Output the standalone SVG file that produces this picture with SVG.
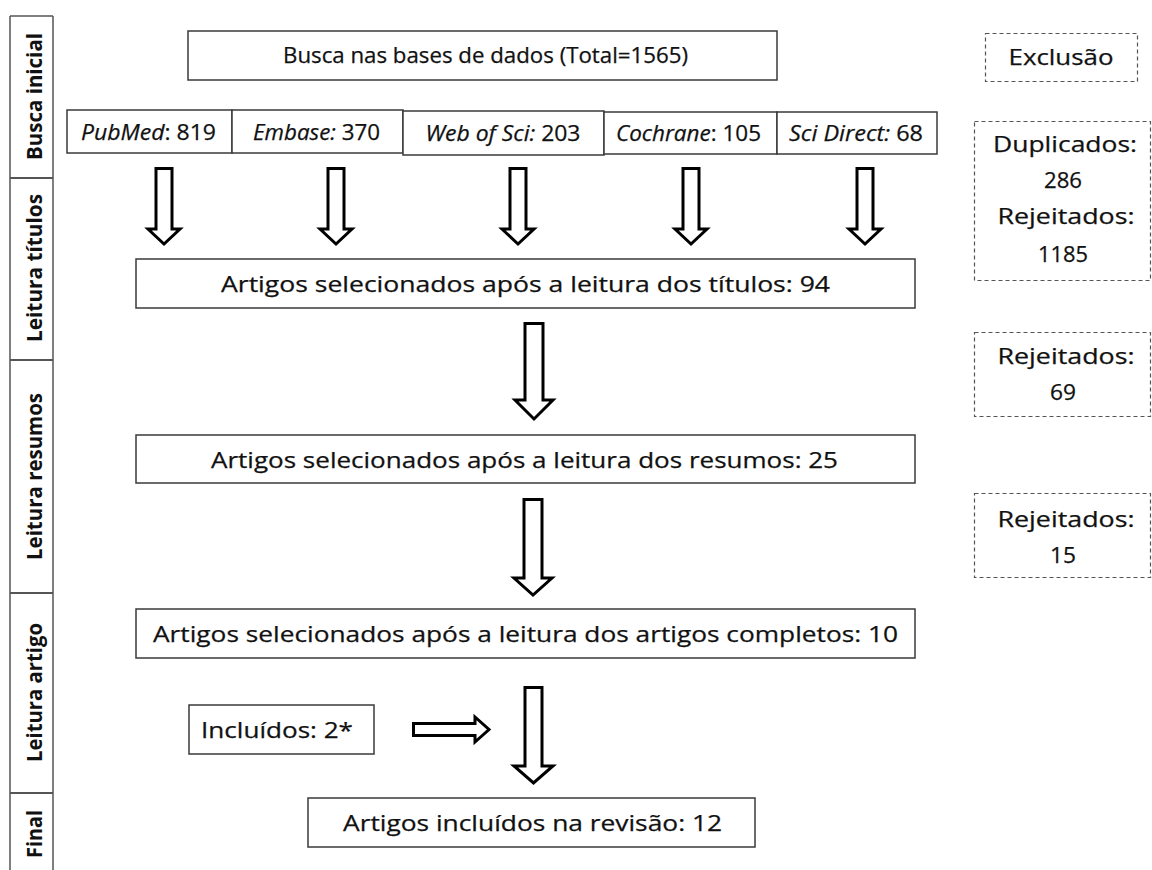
<svg xmlns="http://www.w3.org/2000/svg" width="1152" height="870" viewBox="0 0 1152 870">
<style>
.box{fill:#fff;stroke:#3a3a3a;stroke-width:1.5}
.dash{fill:#fff;stroke:#555;stroke-width:1.2;stroke-dasharray:4 3}
.side{fill:none;stroke:#555;stroke-width:1.5}
.t{font-family:"Open Sans",Lato,"Liberation Sans",sans-serif;font-size:22px;fill:#111;stroke:#111;stroke-width:0.25;text-anchor:middle}
.s{font-family:"Open Sans",Lato,"Liberation Sans",sans-serif;font-size:22px;font-weight:bold;fill:#111;text-anchor:middle}
.arr{fill:#fff;stroke:#000;stroke-width:3;stroke-linejoin:miter}
.i{font-style:italic}
</style>
<rect width="1152" height="870" fill="#fff"/>
<g id="sidebar">
<path class="side" d="M10 16H53M10 16V870M53 16V870"/>
<path class="side" d="M10 178H53M10 360H53M10 593H53M10 793H53" style="stroke-width:2"/>
<text class="s" transform="translate(42,96.5) rotate(-90)" textLength="127" lengthAdjust="spacingAndGlyphs">Busca inicial</text>
<text class="s" transform="translate(42,268) rotate(-90)" textLength="148" lengthAdjust="spacingAndGlyphs">Leitura títulos</text>
<text class="s" transform="translate(42,476.5) rotate(-90)" textLength="167" lengthAdjust="spacingAndGlyphs">Leitura resumos</text>
<text class="s" transform="translate(42,692.5) rotate(-90)" textLength="139" lengthAdjust="spacingAndGlyphs">Leitura artigo</text>
<text class="s" transform="translate(42,834) rotate(-90)" textLength="48" lengthAdjust="spacingAndGlyphs">Final</text>
</g>
<g id="busca">
<rect class="box" x="188" y="31" width="589" height="49"/>
<text class="t" x="485.5" y="63" textLength="405" lengthAdjust="spacingAndGlyphs">Busca nas bases de dados (Total=1565)</text>
</g>
<g id="pubmed">
<rect class="box" x="67" y="110" width="165" height="43"/>
<text class="t" x="148.5" y="140" textLength="135" lengthAdjust="spacingAndGlyphs"><tspan class="i">PubMed</tspan>: 819</text>
</g>
<g id="embase">
<rect class="box" x="232" y="110" width="171" height="43"/>
<text class="t" x="316.5" y="140" textLength="127" lengthAdjust="spacingAndGlyphs"><tspan class="i">Embase:</tspan> 370</text>
</g>
<g id="webofsci">
<rect class="box" x="403" y="111" width="201" height="44"/>
<text class="t" x="503" y="141" textLength="155" lengthAdjust="spacingAndGlyphs"><tspan class="i">Web of Sci:</tspan> 203</text>
</g>
<g id="cochrane">
<rect class="box" x="604" y="112" width="173" height="42"/>
<text class="t" x="688.5" y="141" textLength="145" lengthAdjust="spacingAndGlyphs"><tspan class="i">Cochrane</tspan>: 105</text>
</g>
<g id="scidirect">
<rect class="box" x="777" y="112" width="160" height="42"/>
<text class="t" x="856" y="141" textLength="134" lengthAdjust="spacingAndGlyphs"><tspan class="i">Sci Direct:</tspan> 68</text>
</g>
<g id="titulos">
<rect class="box" x="136" y="259" width="779" height="49"/>
<text class="t" x="525.5" y="292" textLength="609" lengthAdjust="spacingAndGlyphs">Artigos selecionados após a leitura dos títulos: 94</text>
</g>
<g id="resumos">
<rect class="box" x="136" y="435" width="779" height="48"/>
<text class="t" x="524.5" y="468" textLength="627" lengthAdjust="spacingAndGlyphs">Artigos selecionados após a leitura dos resumos: 25</text>
</g>
<g id="completos">
<rect class="box" x="136" y="609" width="779" height="49"/>
<text class="t" x="525.5" y="642" textLength="745" lengthAdjust="spacingAndGlyphs">Artigos selecionados após a leitura dos artigos completos: 10</text>
</g>
<g id="incluidos">
<rect class="box" x="189" y="705" width="185" height="49"/>
<text class="t" x="277" y="738" textLength="152" lengthAdjust="spacingAndGlyphs">Incluídos: 2*</text>
</g>
<g id="final">
<rect class="box" x="308" y="798" width="447" height="49"/>
<text class="t" x="532.5" y="831" textLength="379" lengthAdjust="spacingAndGlyphs">Artigos incluídos na revisão: 12</text>
</g>
<g id="exclusao">
<rect class="dash" x="985.5" y="33.5" width="152" height="48"/>
<text class="t" x="1061" y="65" textLength="105" lengthAdjust="spacingAndGlyphs">Exclusão</text>
</g>
<g id="excl1">
<rect class="dash" x="974.5" y="121.5" width="176" height="159"/>
<text class="t" x="1065" y="152" textLength="144" lengthAdjust="spacingAndGlyphs">Duplicados:</text>
<text class="t" x="1063" y="188" textLength="38" lengthAdjust="spacingAndGlyphs">286</text>
<text class="t" x="1066" y="224" textLength="137" lengthAdjust="spacingAndGlyphs">Rejeitados:</text>
<text class="t" x="1063" y="262" textLength="50" lengthAdjust="spacingAndGlyphs">1185</text>
</g>
<g id="excl2">
<rect class="dash" x="974.5" y="332.5" width="176" height="84"/>
<text class="t" x="1066" y="364" textLength="137" lengthAdjust="spacingAndGlyphs">Rejeitados:</text>
<text class="t" x="1063" y="400" textLength="26" lengthAdjust="spacingAndGlyphs">69</text>
</g>
<g id="excl3">
<rect class="dash" x="974.5" y="493.5" width="176" height="84"/>
<text class="t" x="1066" y="527" textLength="137" lengthAdjust="spacingAndGlyphs">Rejeitados:</text>
<text class="t" x="1063" y="563" textLength="26" lengthAdjust="spacingAndGlyphs">15</text>
</g>
<g id="connectors">
<polygon class="arr" points="156,168.5 172,168.5 172,229 180,229 164,244 148,229 156,229"/>
<polygon class="arr" points="328,168.5 344,168.5 344,229 352,229 336,244 320,229 328,229"/>
<polygon class="arr" points="510,168.5 526,168.5 526,229 534,229 518,244 502,229 510,229"/>
<polygon class="arr" points="683,168.5 699,168.5 699,229 707,229 691,244 675,229 683,229"/>
<polygon class="arr" points="857,168.5 873,168.5 873,229 881,229 865,244 849,229 857,229"/>
<polygon class="arr" points="525,323.5 543,323.5 543,400 553,400 534,419 515,400 525,400"/>
<polygon class="arr" points="524,499.5 542,499.5 542,578 552,578 533,595 514,578 524,578"/>
<polygon class="arr" points="525,687.5 542,687.5 542,766 553,766 533.5,783 514,766 525,766"/>
<polygon class="arr" points="413.5,723.5 475,723.5 475,717 489,729.5 475,742 475,735.5 413.5,735.5"/>
</g>
</svg>
